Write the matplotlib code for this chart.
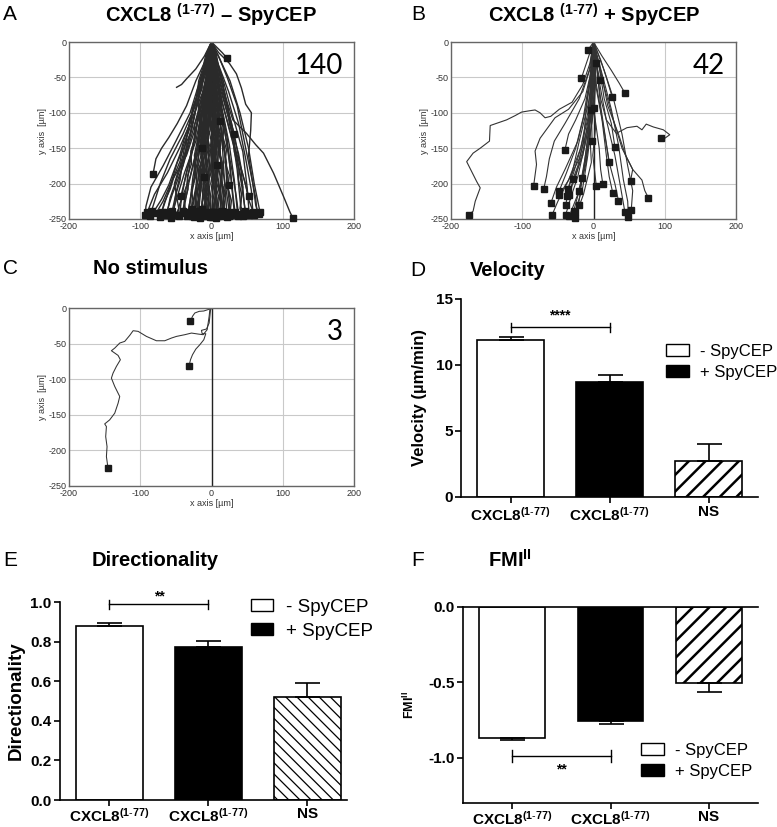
import matplotlib
matplotlib.use("Agg")
import matplotlib.pyplot as plt
from matplotlib.patches import Patch
import numpy as np

plt.rcParams['font.family'] = ['Liberation Sans', 'DejaVu Sans']
plt.rcParams['mathtext.fontset'] = 'custom'
plt.rcParams['mathtext.rm'] = 'Liberation Sans'
plt.rcParams['mathtext.bf'] = 'Liberation Sans:bold'
plt.rcParams['mathtext.it'] = 'Liberation Sans:italic'
plt.rcParams['hatch.linewidth'] = 1.6
plt.rcParams['axes.unicode_minus'] = False

# ----------------------------- DATA -----------------------------------

TRACK_XTICKS = [-200, -100, 0, 100, 200]
TRACK_YTICKS = [0, -50, -100, -150, -200, -250]

# panel A: CXCL8 (1-77) - SpyCEP, tracks (x, y) in um
TRACKS_A = [
    [(0, 0), (-6, -25), (-18, -60), (-30, -100), (-50, -140), (-68, -175), (-85, -205), (-92, -232), (-93, -244)],
    [(0, 0), (-4, -30), (-12, -70), (-28, -110), (-45, -150), (-62, -185), (-80, -215), (-90, -240)],
    [(0, 0), (-5, -20), (-15, -55), (-25, -95), (-40, -130), (-58, -165), (-72, -200), (-84, -238)],
    [(0, 0), (-3, -35), (-10, -75), (-22, -120), (-35, -160), (-55, -195), (-68, -225), (-78, -242)],
    [(0, 0), (-7, -40), (-20, -85), (-30, -130), (-48, -170), (-60, -210), (-72, -247)],
    [(0, 0), (-2, -30), (-14, -80), (-26, -125), (-40, -175), (-55, -215), (-64, -244)],
    [(0, 0), (-5, -45), (-12, -90), (-22, -140), (-38, -185), (-50, -225), (-57, -248)],
    [(0, 0), (-3, -40), (-8, -95), (-18, -140), (-30, -190), (-45, -230), (-48, -245)],
    [(0, 0), (-6, -50), (-14, -100), (-20, -150), (-32, -200), (-40, -242)],
    [(0, 0), (-2, -40), (-10, -90), (-15, -145), (-25, -195), (-34, -246)],
    [(0, 0), (-4, -60), (-9, -110), (-18, -160), (-22, -205), (-29, -243)],
    [(0, 0), (-1, -50), (-6, -100), (-12, -155), (-20, -200), (-25, -247)],
    [(0, 0), (-3, -45), (-10, -95), (-8, -150), (-16, -200), (-20, -244)],
    [(0, 0), (-2, -55), (-5, -110), (-12, -160), (-10, -210), (-16, -248)],
    [(0, 0), (-4, -50), (-2, -105), (-8, -155), (-6, -205), (-12, -243)],
    [(0, 0), (-1, -60), (-6, -120), (-3, -175), (-9, -215), (-8, -246)],
    [(0, 0), (1, -50), (-3, -100), (2, -150), (-4, -200), (-4, -242)],
    [(0, 0), (-2, -45), (2, -105), (-1, -160), (2, -205), (0, -247)],
    [(0, 0), (2, -55), (-1, -110), (4, -165), (1, -210), (3, -244)],
    [(0, 0), (1, -40), (4, -95), (2, -150), (7, -200), (6, -248)],
    [(0, 0), (3, -50), (2, -100), (8, -155), (6, -205), (10, -243)],
    [(0, 0), (2, -60), (7, -115), (5, -165), (12, -210), (14, -246)],
    [(0, 0), (4, -45), (6, -100), (12, -150), (15, -200), (18, -242)],
    [(0, 0), (3, -40), (9, -90), (15, -140), (18, -195), (22, -247)],
    [(0, 0), (5, -50), (10, -100), (18, -150), (22, -200), (27, -244)],
    [(0, 0), (4, -35), (12, -85), (22, -135), (27, -190), (32, -241)],
    [(0, 0), (6, -45), (15, -95), (25, -145), (32, -195), (37, -246)],
    [(0, 0), (5, -30), (16, -75), (28, -125), (36, -180), (42, -243)],
    [(0, 0), (8, -40), (20, -85), (32, -130), (42, -185), (47, -239)],
    [(0, 0), (7, -25), (18, -60), (30, -105), (44, -155), (50, -205), (53, -244)],
    [(0, 0), (9, -30), (24, -70), (38, -115), (48, -165), (56, -210), (58, -240)],
    [(0, 0), (10, -20), (22, -50), (36, -90), (46, -140), (55, -185), (62, -220), (64, -242)],
    [(0, 0), (12, -25), (26, -55), (40, -100), (52, -150), (60, -200), (68, -240)],
    [(0, 0), (6, -25), (14, -55), (22, -85), (30, -110), (49, -129), (62, -145), (73, -157), (87, -185), (101, -218), (110, -240), (114, -248)],
    [(0, 0), (8, -8), (15, -15), (22, -23)],
    [(0, 0), (10, -15), (25, -30), (35, -45), (42, -65), (48, -88), (56, -100), (55, -125), (52, -160), (58, -200), (62, -230), (66, -243)],
    [(0, 0), (-8, -25), (-22, -55), (-35, -90), (-48, -115), (-60, -135), (-70, -150), (-78, -165), (-82, -186)],
    [(0, 0), (5, -30), (12, -65), (22, -100), (32, -130)],
    [(0, 0), (-5, -40), (-15, -90), (-25, -140), (-35, -185), (-43, -218)],
    [(0, 0), (6, -40), (16, -90), (30, -140), (42, -180), (52, -218)],
    [(0, 0), (3, -50), (10, -100), (18, -150), (24, -202)],
    [(0, 0), (-3, -30), (-8, -70), (-14, -110), (-18, -150), (-26, -190), (-30, -225), (-33, -240)],
    [(0, 0), (2, -30), (-4, -75), (-10, -115), (-7, -160), (-14, -200), (-18, -238)],
    [(0, 0), (-1, -25), (3, -65), (-2, -105), (5, -145), (2, -190), (8, -240)],
    [(0, 0), (4, -30), (7, -70), (10, -110), (6, -150), (12, -190), (15, -238)],
    [(0, 0), (-5, -30), (-6, -65), (-1, -100), (-6, -140), (-3, -180), (-7, -220), (-5, -240)],
    [(0, 0), (1, -20), (-5, -60), (-12, -95), (-16, -135), (-12, -175), (-20, -215), (-22, -240)],
    [(0, 0), (3, -20), (6, -55), (2, -95), (9, -135), (14, -175), (12, -215), (18, -240)],
    [(0, 0), (-2, -35), (-9, -60), (-17, -90), (-22, -130), (-30, -170), (-36, -210), (-40, -238)],
    [(0, 0), (2, -25), (8, -60), (14, -95), (20, -135), (26, -175), (30, -215), (33, -240)],
    [(0, 0), (-4, -20), (-11, -50), (-20, -85), (-28, -125), (-38, -165), (-48, -205), (-55, -238)],
    [(0, 0), (5, -20), (12, -45), (20, -80), (28, -120), (35, -160), (42, -200), (48, -242)],
    [(0, 0), (-6, -30), (-16, -65), (-24, -105), (-34, -145), (-46, -185), (-58, -220), (-62, -240)],
    [(0, 0), (1, -40), (-3, -80), (-5, -125), (-9, -170), (-12, -210), (-14, -240)],
    [(0, 0), (-1, -35), (1, -85), (5, -130), (3, -175), (6, -215), (4, -245)],
    [(0, 0), (-3, -25), (-7, -55), (-5, -95), (-11, -130), (-8, -170), (-3, -205), (-1, -240)],
    [(0, 0), (3, -35), (1, -70), (6, -110), (10, -150), (8, -190), (13, -225), (11, -244)],
    [(0, 0), (-2, -20), (-12, -45), (-18, -80), (-16, -120), (-24, -160), (-20, -200), (-27, -236)],
    [(0, 0), (2, -45), (9, -80), (4, -120), (13, -165), (20, -205), (25, -240)],
    [(0, 0), (-8, -35), (-20, -75), (-32, -120), (-40, -160), (-52, -200), (-46, -235), (-50, -245)],
    [(0, 0), (6, -35), (14, -80), (24, -120), (36, -165), (44, -205), (40, -235), (44, -246)],
    # jagged tracks in the dense core
    [(0, 0), (-2, -12), (1, -25), (-4, -38), (-2, -52), (-7, -66), (-4, -80), (-9, -95), (-6, -110), (-12, -125), (-9, -140), (-15, -158), (-12, -175), (-18, -192), (-15, -210), (-20, -228), (-18, -244)],
    [(0, 0), (2, -15), (-1, -30), (3, -45), (0, -62), (4, -78), (1, -95), (6, -112), (2, -130), (7, -148), (3, -165), (8, -182), (5, -200), (10, -218), (7, -235), (9, -246)],
    [(0, 0), (-4, -10), (-3, -25), (-8, -40), (-6, -55), (-12, -72), (-10, -88), (-16, -104), (-14, -120), (-20, -138), (-18, -155), (-25, -172), (-22, -190), (-28, -208), (-26, -225), (-30, -243)],
    [(0, 0), (3, -10), (1, -24), (5, -38), (3, -54), (8, -70), (6, -86), (11, -102), (9, -120), (14, -138), (11, -156), (16, -174), (13, -192), (18, -210), (16, -228), (20, -245)],
    [(0, 0), (-1, -18), (-5, -34), (-3, -50), (-8, -66), (-5, -84), (-10, -100), (-7, -118), (-4, -136), (-9, -154), (-6, -172), (-11, -190), (-8, -208), (-13, -226), (-10, -242)],
    [(0, 0), (1, -14), (-2, -28), (2, -44), (-1, -60), (3, -76), (-2, -92), (2, -110), (-3, -128), (1, -146), (-4, -164), (0, -182), (-5, -200), (-1, -218), (-4, -236), (-2, -247)],
    [(0, 0), (-6, -15), (-9, -30), (-14, -48), (-13, -65), (-19, -82), (-18, -100), (-24, -118), (-23, -136), (-29, -154), (-28, -172), (-34, -190), (-33, -208), (-38, -226), (-36, -242)],
    [(0, 0), (5, -14), (6, -30), (10, -46), (9, -62), (14, -80), (13, -98), (18, -116), (16, -134), (21, -152), (19, -170), (25, -188), (23, -206), (28, -224), (26, -241)],
    [(0, 0), (-3, -20), (0, -38), (-4, -56), (-1, -74), (-6, -92), (-2, -110), (-7, -128), (-3, -146), (-8, -164), (-4, -182), (-9, -200), (-5, -218), (-8, -236), (-7, -245)],
    [(0, 0), (2, -20), (5, -36), (2, -54), (6, -72), (3, -90), (8, -108), (4, -126), (9, -144), (5, -162), (10, -180), (7, -198), (12, -216), (9, -234), (12, -244)],
    [(0, 0), (-8, -18), (-12, -36), (-18, -55), (-20, -75), (-27, -95), (-28, -115), (-35, -135), (-36, -155), (-42, -175), (-44, -195), (-50, -215), (-52, -232), (-54, -244)],
    [(0, 0), (7, -18), (10, -36), (16, -55), (18, -75), (24, -95), (25, -115), (31, -135), (32, -155), (37, -175), (38, -195), (42, -215), (41, -232), (45, -242)],
    [(0, 0), (-1, -22), (-4, -44), (-1, -66), (-5, -88), (-2, -110), (-6, -132), (-3, -154), (-7, -176), (-4, -198), (-9, -220), (-6, -242)],
    [(0, 0), (1, -22), (4, -44), (1, -66), (5, -88), (2, -110), (6, -132), (3, -154), (7, -176), (3, -198), (6, -220), (2, -240)],
    [(0, 0), (-5, -22), (-8, -44), (-6, -66), (-11, -88), (-9, -110), (-15, -132), (-13, -154), (-19, -176), (-17, -198), (-23, -220), (-22, -240)],
    [(0, 0), (4, -22), (7, -44), (5, -66), (10, -88), (8, -110), (13, -132), (11, -154), (16, -176), (14, -198), (19, -220), (17, -242)],
    [(0, 0), (-3, -16), (-10, -32), (-12, -50), (-20, -68), (-22, -88), (-30, -108), (-33, -128), (-40, -148), (-44, -168), (-52, -188), (-58, -208), (-66, -226), (-70, -240)],
    [(0, 0), (-5, -16), (-8, -32), (-15, -50), (-18, -70), (-26, -92), (-30, -114), (-38, -136), (-44, -158), (-52, -180), (-60, -202), (-70, -222), (-80, -238), (-86, -246)],
    [(0, 0), (4, -16), (9, -32), (12, -50), (18, -70), (22, -92), (28, -114), (32, -136), (38, -158), (42, -180), (48, -202), (52, -222), (57, -236), (60, -244)],
    [(0, 0), (-2, -18), (-6, -36), (-4, -56), (-9, -76), (-7, -96), (-12, -116), (-10, -136), (-14, -156), (-11, -176), (-15, -196), (-12, -216), (-14, -236)],
    [(0, 0), (1, -18), (-2, -36), (0, -56), (-3, -76), (1, -96), (-2, -116), (2, -136), (0, -156), (4, -176), (1, -196), (5, -216), (3, -240)],
    [(0, 0), (-4, -18), (-2, -36), (-7, -56), (-5, -76), (-10, -96), (-8, -116), (-13, -136), (-11, -156), (-16, -176), (-14, -196), (-18, -216), (-17, -238)],
    [(0, 0), (3, -18), (1, -36), (6, -56), (4, -76), (9, -96), (7, -116), (12, -136), (10, -156), (15, -176), (13, -196), (17, -216), (15, -243)],
    [(0, 0), (-1, -25), (-6, -50), (-3, -75), (-8, -100), (-5, -125), (-10, -150), (-7, -175), (-12, -200), (-9, -225), (-11, -246)],
    [(0, 0), (0, -25), (-3, -50), (1, -75), (-3, -100), (2, -125), (-2, -150), (3, -175), (-1, -200), (4, -225), (1, -244)],
    [(0, 0), (-6, -20), (-6, -45), (-12, -70), (-12, -95), (-18, -120), (-18, -145), (-24, -170), (-24, -195), (-29, -220), (-28, -246)],
    [(0, 0), (6, -20), (6, -45), (11, -70), (11, -95), (16, -120), (16, -145), (21, -170), (21, -195), (26, -220), (24, -246)],
    [(0, 0), (-2, -30), (-8, -60), (-14, -92), (-22, -124), (-28, -156), (-36, -188), (-42, -220), (-45, -246)],
    [(0, 0), (2, -30), (6, -60), (12, -92), (18, -124), (24, -156), (30, -188), (35, -220), (38, -244)],
    [(0, 0), (-2, -15), (-5, -30), (-3, -45), (-9, -60), (-7, -75), (-12, -90), (-9, -105), (-14, -120), (-11, -135), (-16, -150), (-13, -165), (-18, -180), (-15, -196), (-20, -212), (-17, -228), (-22, -244)],
    [(0, 0), (-2, -40), (-6, -80), (-10, -120), (-14, -150)],
    [(0, 0), (3, -50), (8, -90), (12, -112)],
    [(0, 0), (-3, -14), (-1, -30), (-6, -46), (-3, -62), (-8, -78), (-5, -94), (-10, -110), (-7, -126), (-12, -142), (-9, -158), (-14, -174), (-11, -190)],
    [(0, 0), (2, -14), (0, -30), (4, -46), (1, -62), (5, -78), (2, -94), (6, -110), (3, -126), (7, -142), (4, -158), (8, -174)],
]
OPEN_TRACKS_A = [
    [(0, 0), (-10, -20), (-22, -38), (-35, -52), (-42, -60), (-49, -64)],
]

# panel B: CXCL8 (1-77) + SpyCEP
TRACKS_B = [
    [(0, 0), (-5, -30), (-15, -60), (-30, -85), (-48, -95), (-60, -105), (-68, -107), (-75, -100), (-82, -96),
     (-89, -97), (-101, -99), (-110, -104), (-122, -110), (-145, -118), (-146, -140), (-159, -150), (-169, -157),
     (-178, -169), (-171, -183), (-164, -197), (-159, -206), (-166, -225), (-169, -239), (-175, -244)],
    [(0, 0), (-4, -35), (-15, -70), (-35, -95), (-54, -107), (-75, -136), (-82, -154), (-80, -173), (-84, -203)],
    [(0, 0), (-6, -40), (-20, -80), (-40, -115), (-55, -140), (-62, -165), (-66, -190), (-70, -208)],
    [(0, 0), (-3, -40), (-12, -80), (-25, -110), (-35, -130), (-40, -152)],
    [(0, 0), (5, -40), (10, -80), (18, -110), (32, -129), (47, -121), (61, -119), (68, -124), (74, -116),
     (84, -120), (98, -124), (107, -131), (100, -136), (95, -136)],
    [(0, 0), (-3, -40), (-10, -90), (-22, -140), (-40, -180), (-52, -205), (-60, -228)],
    [(0, 0), (2, -50), (-6, -100), (-18, -150), (-35, -195), (-50, -225), (-58, -244)],
    [(0, 0), (-5, -50), (-14, -105), (-25, -150), (-38, -185), (-48, -210)],
    [(0, 0), (-2, -60), (-8, -120), (-20, -165), (-35, -195), (-48, -216)],
    [(0, 0), (-4, -45), (-2, -95), (-12, -145), (-22, -190), (-32, -220), (-39, -244)],
    [(0, 0), (1, -55), (-5, -110), (-15, -160), (-28, -195), (-37, -218)],
    [(0, 0), (-3, -50), (-8, -100), (-18, -150), (-28, -185), (-36, -207)],
    [(0, 0), (-1, -60), (-6, -120), (-10, -170), (-20, -210), (-34, -246)],
    [(0, 0), (-2, -40), (-10, -90), (-14, -140), (-22, -175), (-29, -194)],
    [(0, 0), (3, -50), (-2, -110), (-8, -160), (-15, -205), (-26, -240)],
    [(0, 0), (-4, -55), (-6, -115), (-3, -170), (-14, -215), (-26, -248)],
    [(0, 0), (1, -45), (-4, -95), (-10, -150), (-16, -195), (-21, -230)],
    [(0, 0), (-2, -50), (0, -100), (-8, -150), (-14, -185), (-21, -210)],
    [(0, 0), (2, -40), (-4, -90), (-6, -140), (-12, -170), (-16, -192)],
    [(0, 0), (-5, -15), (-10, -30), (-17, -51)],
    [(0, 0), (2, -25), (-2, -55), (1, -75), (-3, -96)],
    [(0, 0), (-2, -60), (3, -120), (-1, -160), (4, -204)],
    [(0, 0), (3, -50), (1, -100), (8, -150), (10, -180), (13, -200)],
    [(0, 0), (4, -20), (6, -40), (9, -54)],
    [(0, 0), (5, -40), (10, -90), (16, -130), (22, -169)],
    [(0, 0), (2, -55), (12, -110), (18, -160), (22, -190), (27, -213)],
    [(0, 0), (8, -35), (15, -80), (25, -115), (30, -148)],
    [(0, 0), (10, -25), (18, -50), (26, -77)],
    [(0, 0), (12, -20), (25, -40), (36, -58), (44, -72)],
    [(0, 0), (10, -40), (20, -90), (35, -130), (45, -160), (55, -180), (52, -196)],
    [(0, 0), (4, -60), (14, -120), (22, -170), (30, -200), (35, -224)],
    [(0, 0), (7, -50), (18, -110), (30, -160), (38, -205), (44, -240)],
    [(0, 0), (12, -45), (25, -95), (35, -145), (42, -195), (48, -225), (49, -247)],
    [(0, 0), (15, -40), (28, -80), (40, -130), (48, -175), (55, -210), (53, -237)],
    [(0, 0), (10, -45), (25, -100), (40, -150), (55, -180), (68, -195), (72, -210), (77, -220)],
    [(0, 0), (-4, -6), (-8, -11)],
    [(0, 0), (0, -50), (-6, -100), (-14, -150), (-25, -190), (-35, -216)],
    [(0, 0), (-3, -55), (-4, -110), (-12, -165), (-20, -210), (-28, -239)],
    [(0, 0), (2, -40), (-8, -90), (-20, -140), (-30, -185), (-39, -230)],
    [(0, 0), (-3, -30), (2, -60), (0, -93)],
    [(0, 0), (2, -15), (3, -30)],
    [(0, 0), (1, -40), (-3, -90), (-2, -140)],
]

# panel C: no stimulus
TRACKS_C = [
    [(0, 0), (-2.3, -2.3), (-3.3, -11.7), (-6.1, -30.5), (-11.7, -37.5), (-18.7, -36.6), (-28.1, -35.2),
     (-37.5, -37.5), (-49.2, -39.9), (-56.2, -42.2), (-65.6, -46), (-77.3, -46), (-91.3, -39.9), (-103, -32.8),
     (-110, -31.9), (-114.8, -38.5), (-121.8, -46.9), (-128.8, -49.2), (-135.8, -56.3), (-140.5, -60),
     (-131.1, -66.6), (-127.9, -72.7), (-133.5, -82.1), (-138.2, -91.5), (-140.5, -98.5), (-135.8, -110.2),
     (-128.8, -124.3), (-131.1, -133.7), (-135.8, -147.7), (-142.9, -157.1), (-149.9, -162.8), (-147.5, -166.5),
     (-148.5, -180.6), (-146.6, -194.7), (-147.5, -208.7), (-145.2, -225.1)],
    [(0, 0), (-2.3, -1.4), (-10.8, -4.2), (-17.3, -4.7), (-23.4, -7), (-26.7, -11.7), (-29.5, -18.8)],
    [(0, 0), (-1.4, -3.3), (-3.3, -21.1), (-7, -29.5), (-14.1, -31.4), (-13.1, -36.1), (-8, -36.1),
     (-10.8, -44.6), (-16.4, -51.6), (-22, -57.7), (-26.7, -65.7), (-29.5, -72.7), (-31.4, -81.1)],
]

TRACK_COUNTS = ["140", "42", "3"]

# bar panels
CATEGORIES = [r"CXCL8$^{\mathbf{(1\text{-}77)}}$", r"CXCL8$^{\mathbf{(1\text{-}77)}}$", "NS"]
VELOCITY = [11.9, 8.75, 2.7]
VELOCITY_ERR = [0.25, 0.5, 1.3]
DIRECTIONALITY = [0.879, 0.775, 0.52]
DIRECTIONALITY_ERR = [0.013, 0.027, 0.07]
FMI = [-0.87, -0.753, -0.505]
FMI_ERR = [0.012, 0.022, 0.06]
LEGEND_LABELS = ["- SpyCEP", "+ SpyCEP"]

W, H = 777, 827


def rect(l, t, r, b):
    return [l / W, 1 - b / H, (r - l) / W, (b - t) / H]


def fx(x, y):
    return x / W, 1 - y / H


def track_panel(ax, tracks, open_tracks, n_label, lw=0.7, color='#383838', ms=3.6):
    ax.set_xlim(-200, 200)
    ax.set_ylim(-250, 0)
    ax.set_xticks(TRACK_XTICKS)
    ax.set_yticks(TRACK_YTICKS)
    ax.grid(True, color='#c9c9c9', lw=0.8)
    ax.set_axisbelow(True)
    ax.axvline(0, color='#222222', lw=1.0, zorder=1)
    for tr in tracks + open_tracks:
        xs, ys = zip(*tr)
        ax.plot(xs, ys, color=color, lw=lw, zorder=2)
    ends = np.array([tr[-1] for tr in tracks])
    ax.plot(ends[:, 0], ends[:, 1], 's', color='#1a1a1a', ms=ms, zorder=3, clip_on=False)
    ax.tick_params(length=0, labelsize=6.5, pad=2, colors='#333333')
    ax.set_xlabel('x axis [µm]', fontsize=6.5, labelpad=1, color='#333333')
    ax.set_ylabel('y axis  [µm]', fontsize=6.5, labelpad=1, color='#333333')
    for s in ax.spines.values():
        s.set_color('#666666')
        s.set_linewidth(1.0)
    ax.text(0.96, 0.865, n_label, transform=ax.transAxes, ha='right', va='center',
            fontsize=20, family='Lato')


def bar_panel(ax, vals, errs, ylim, yticks, ylabels, hatch, hatch_lw, xmax, negative=False, xpad=2):
    x = np.arange(len(vals))
    bars = ax.bar(x, vals, width=0.67, color=['white', 'black', 'white'],
                  edgecolor='black', linewidth=1.2, zorder=2)
    bars[2].set_hatch(hatch)
    if hasattr(bars[2], 'set_hatch_linewidth'):
        bars[2].set_hatch_linewidth(hatch_lw)
    zeros = [0] * len(vals)
    yerr = [errs, zeros] if negative else [zeros, errs]
    ax.errorbar(x, vals, yerr=yerr, fmt='none', ecolor='black', elinewidth=1.2,
                capsize=9, capthick=1.2, zorder=3)
    ax.set_xlim(-0.5, xmax)
    ax.set_ylim(*ylim)
    ax.set_yticks(yticks)
    ax.set_yticklabels(ylabels)
    ax.set_xticks(x)
    ax.set_xticklabels(CATEGORIES)
    for s in ['top', 'right']:
        ax.spines[s].set_visible(False)
    for s in ax.spines.values():
        s.set_linewidth(1.2)
    ax.tick_params(axis='both', length=4, width=1.2, labelsize=11, pad=2)
    ax.tick_params(axis='x', pad=xpad)
    for lab in ax.get_xticklabels() + ax.get_yticklabels():
        lab.set_fontweight('bold')
    return bars


def bracket(ax, x0, x1, y, h, star, sy, fs=10):
    kw = dict(color='black', lw=1.0, clip_on=False)
    ax.plot([x0, x1], [y, y], **kw)
    ax.plot([x0, x0], [y - h, y + h], **kw)
    ax.plot([x1, x1], [y - h, y + h], **kw)
    ax.text((x0 + x1) / 2, sy, star, ha='center', va='center', fontsize=fs,
            fontweight='bold', clip_on=False)


def legend(ax, anchor, fs, hl, hh, sp):
    handles = [Patch(facecolor='white', edgecolor='black', lw=1.0),
               Patch(facecolor='black', edgecolor='black', lw=1.0)]
    ax.legend(handles, LEGEND_LABELS, loc='upper left', bbox_to_anchor=anchor,
              bbox_transform=ax.figure.transFigure, frameon=False, fontsize=fs,
              handlelength=hl, handleheight=hh, handletextpad=0.7,
              labelspacing=sp, borderpad=0, borderaxespad=0)


fig = plt.figure(figsize=(W / 100, H / 100), dpi=100)

# ---- trajectory panels
axA = fig.add_axes(rect(69, 42, 354, 219))
track_panel(axA, TRACKS_A, OPEN_TRACKS_A, TRACK_COUNTS[0], lw=1.0, color='#2a2a2a', ms=4.2)
axB = fig.add_axes(rect(451, 42, 736, 219))
track_panel(axB, TRACKS_B, [], TRACK_COUNTS[1], lw=0.8, color='#333333', ms=4.2)
axC = fig.add_axes(rect(69, 308, 354, 486))
track_panel(axC, TRACKS_C, [], TRACK_COUNTS[2], lw=0.75, color='#333333', ms=4.2)

# ---- D velocity
axD = fig.add_axes(rect(461, 299, 758, 497))
bar_panel(axD, VELOCITY, VELOCITY_ERR, (0, 15), [0, 5, 10, 15], ['0', '5', '10', '15'],
          '//', 1.8, 2.5)
axD.set_ylabel('Velocity (µm/min)', fontsize=12, fontweight='bold', labelpad=6)
bracket(axD, 0, 1, 12.85, 0.35, '****', 13.75, fs=10)
legend(axD, fx(666, 344), 12, 1.35, 0.75, 0.35)

# ---- E directionality
axE = fig.add_axes(rect(60, 602, 347, 800))
bar_panel(axE, DIRECTIONALITY, DIRECTIONALITY_ERR, (0, 1.0), [0, 0.2, 0.4, 0.6, 0.8, 1.0],
          ['0.0', '0.2', '0.4', '0.6', '0.8', '1.0'], '\\\\\\', 0.9, 2.4, xpad=1)
axE.set_ylabel('Directionality', fontsize=13.5, fontweight='bold', labelpad=4)
bracket(axE, 0, 1, 0.988, 0.022, '**', 1.03, fs=10)
legend(axE, fx(251, 599), 13.5, 1.15, 0.6, 0.35)

# ---- F FMI
axF = fig.add_axes(rect(463, 607, 758, 803))
bar_panel(axF, FMI, FMI_ERR, (-1.3, 0), [-1.0, -0.5, 0.0], ['-1.0', '-0.5', '0.0'],
          '//', 1.8, 2.5, negative=True, xpad=1)
axF.spines['top'].set_visible(True)
axF.spines['top'].set_linewidth(1.2)
axF.set_ylabel(r'FMI$^{\mathbf{II}}$', fontsize=9, fontweight='bold', labelpad=8)
bracket(axF, 0, 1, -0.987, 0.04, '**', -1.08, fs=10)
legend(axF, fx(641, 743), 12, 1.35, 0.75, 0.35)

# ---- titles and panel letters
title_kw = dict(fontsize=14.5, fontweight='bold', ha='left', va='center')
fig.text(*fx(105, 15), r'CXCL8 $^{\mathbf{(1\text{-}77)}}$ – SpyCEP', **title_kw)
fig.text(*fx(488, 15), r'CXCL8 $^{\mathbf{(1\text{-}77)}}$ + SpyCEP', **title_kw)
fig.text(*fx(93, 269), 'No stimulus', **title_kw)
fig.text(*fx(470, 270), 'Velocity', **title_kw)
fig.text(*fx(92, 560), 'Directionality', **title_kw)
fig.text(*fx(488, 560), r'FMI$^{\mathbf{II}}$', **title_kw)

letter_kw = dict(fontsize=15, ha='left', va='center')
for letter, (lx, ly) in zip('ABCDEF', [(3, 15), (411, 15), (3, 269), (410, 270), (3, 560), (411, 560)]):
    fig.text(*fx(lx, ly), letter, **letter_kw)

fig.savefig('out.png', dpi=100)
